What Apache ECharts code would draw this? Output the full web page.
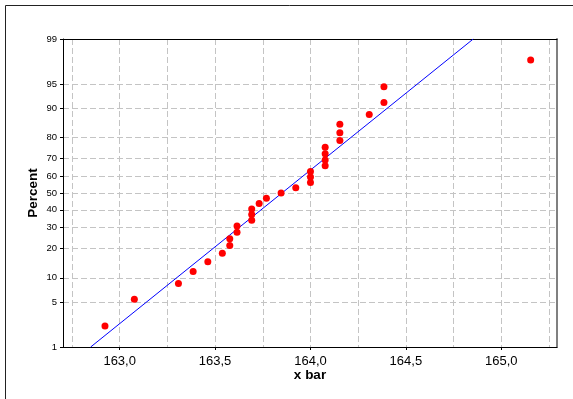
<!DOCTYPE html>
<html>
<head>
<meta charset="utf-8">
<script src="https://cdn.jsdelivr.net/npm/echarts@6/dist/echarts.min.js"></script>
<style>
  html, body { margin: 0; padding: 0; background: #ffffff; }
  #chart { width: 573px; height: 399px; }
</style>
</head>
<body>
<div id="chart"></div>
<script>
// ---- data ----
var xBarValues = [162.923, 163.077, 163.308, 163.385, 163.462, 163.538, 163.577, 163.577,
  163.615, 163.615, 163.692, 163.692, 163.692, 163.731, 163.769, 163.846, 163.923,
  164.000, 164.000, 164.000, 164.077, 164.077, 164.077, 164.077, 164.154, 164.154,
  164.154, 164.308, 164.385, 164.385, 165.154];
var percentValues = [2.23, 5.41, 8.60, 11.78, 14.97, 18.15, 21.34, 24.52, 27.71, 30.89,
  34.08, 37.26, 40.45, 43.63, 46.82, 50.00, 53.18, 56.37, 59.55, 62.74, 65.92, 69.11,
  72.29, 75.48, 78.66, 81.85, 85.03, 88.22, 91.40, 94.59, 97.77];
var fitLineX = [162.848, 164.853];
var fitLinePercent = [1, 99];
var yTickPercents = [1, 5, 10, 20, 30, 40, 50, 60, 70, 80, 90, 95, 99];
var yGridPercents = [5, 10, 20, 30, 40, 50, 60, 70, 80, 90, 95];
var xTickLabels = [163.0, 163.5, 164.0, 164.5, 165.0];
var xGridValues = [162.75, 163.0, 163.25, 163.5, 163.75, 164.0, 164.25, 164.5, 164.75, 165.0, 165.25];
var xMin = 162.703, xMax = 165.292;
var yMinPercent = 1, yMaxPercent = 99;

// ---- probability (probit) scale transform ----
function probit(p) {
  var a = [-3.969683028665376e+01, 2.209460984245205e+02, -2.759285104469687e+02,
           1.383577518672690e+02, -3.066479806614716e+01, 2.506628277459239e+00];
  var b = [-5.447609879822406e+01, 1.615858368580409e+02, -1.556989798598866e+02,
           6.680131188771972e+01, -1.328068155288572e+01];
  var c = [-7.784894002430293e-03, -3.223964580411365e-01, -2.400758277161838e+00,
           -2.549732539343734e+00, 4.374664141464968e+00, 2.938163982698783e+00];
  var d = [7.784695709041462e-03, 3.224671290700398e-01, 2.445134137142996e+00,
           3.754408661907416e+00];
  var pl = 0.02425, q, r;
  if (p < pl) {
    q = Math.sqrt(-2 * Math.log(p));
    return (((((c[0]*q+c[1])*q+c[2])*q+c[3])*q+c[4])*q+c[5]) / ((((d[0]*q+d[1])*q+d[2])*q+d[3])*q+1);
  } else if (p <= 1 - pl) {
    q = p - 0.5; r = q * q;
    return (((((a[0]*r+a[1])*r+a[2])*r+a[3])*r+a[4])*r+a[5])*q / (((((b[0]*r+b[1])*r+b[2])*r+b[3])*r+b[4])*r+1);
  } else {
    q = Math.sqrt(-2 * Math.log(1 - p));
    return -(((((c[0]*q+c[1])*q+c[2])*q+c[3])*q+c[4])*q+c[5]) / ((((d[0]*q+d[1])*q+d[2])*q+d[3])*q+1);
  }
}
function zOf(pct) { return probit(pct / 100); }

var yTickZ = yTickPercents.map(zOf);
var yGridZ = yGridPercents.map(zOf);
var points = xBarValues.map(function (x, i) { return [x, zOf(percentValues[i])]; });
var fitPoints = fitLineX.map(function (x, i) { return [x, zOf(fitLinePercent[i])]; });

function yLabel(v) {
  var best = 0, bd = Infinity;
  for (var i = 0; i < yTickZ.length; i++) {
    var dd = Math.abs(yTickZ[i] - v);
    if (dd < bd) { bd = dd; best = i; }
  }
  return String(yTickPercents[best]);
}
function xLabel(v) { return v.toFixed(1).replace('.', ','); }

var chart = echarts.init(document.getElementById('chart'), null, { renderer: 'canvas' });
var gridColor = '#c4c4c4';
var option = {
  animation: false,
  backgroundColor: '#ffffff',
  graphic: [{
    type: 'rect',
    shape: { x: 5.5, y: 5.5, width: 700, height: 500 },
    style: { fill: 'none', stroke: '#222222', lineWidth: 1 },
    silent: true, z: -10
  }],
  grid: { left: 63, top: 39, width: 494, height: 308, containLabel: false },
  xAxis: [{
    type: 'value', position: 'bottom', min: xMin, max: xMax,
    name: 'x bar', nameLocation: 'middle', nameGap: 21, nameMoveOverlap: false,
    nameTextStyle: { fontFamily: 'Liberation Sans', fontWeight: 'bold', fontSize: 13.5, color: '#000' },
    axisLine: { show: true, onZero: false, lineStyle: { color: '#000', width: 1 } },
    axisTick: { show: true, length: 3, customValues: xTickLabels, lineStyle: { color: '#000' } },
    axisLabel: { customValues: xTickLabels, formatter: xLabel, fontFamily: 'Liberation Sans',
      fontSize: 13, color: '#000', margin: 8 },
    splitLine: { show: false }
  }, {
    type: 'value', position: 'top', min: xMin, max: xMax,
    axisLine: { show: true, onZero: false, lineStyle: { color: '#000', width: 1 } },
    axisTick: { show: false, customValues: xGridValues },
    axisLabel: { show: false, customValues: xGridValues },
    splitLine: { show: true, lineStyle: { color: gridColor, type: [6, 3], width: 1 } }
  }],
  yAxis: [{
    type: 'value', position: 'left', min: zOf(yMinPercent), max: zOf(yMaxPercent),
    name: 'Percent', nameLocation: 'middle', nameGap: 23, nameMoveOverlap: false,
    nameTextStyle: { fontFamily: 'Liberation Sans', fontWeight: 'bold', fontSize: 13.5, color: '#000' },
    axisLine: { show: true, onZero: false, lineStyle: { color: '#000', width: 1 } },
    axisTick: { show: true, length: 3, customValues: yTickZ, lineStyle: { color: '#000' } },
    axisLabel: { customValues: yTickZ, formatter: yLabel, fontFamily: 'Liberation Sans',
      fontSize: 9.5, color: '#000', margin: 6 },
    splitLine: { show: false }
  }, {
    type: 'value', position: 'right', min: zOf(yMinPercent), max: zOf(yMaxPercent),
    axisLine: { show: true, onZero: false, lineStyle: { color: '#808080', width: 2 } },
    axisTick: { show: false, customValues: yGridZ },
    axisLabel: { show: false, customValues: yGridZ },
    splitLine: { show: true, lineStyle: { color: gridColor, type: [6, 3], width: 1 } }
  }],
  series: [{
    type: 'line', xAxisIndex: 0, yAxisIndex: 0, data: fitPoints,
    symbol: 'none', lineStyle: { color: '#0000ff', width: 1 }, z: 2, silent: true
  }, {
    type: 'scatter', xAxisIndex: 0, yAxisIndex: 0, data: points,
    symbol: 'circle', symbolSize: 7, itemStyle: { color: '#ff0000', opacity: 1 }, z: 3, silent: true
  }]
};
chart.setOption(option);
</script>
</body>
</html>
